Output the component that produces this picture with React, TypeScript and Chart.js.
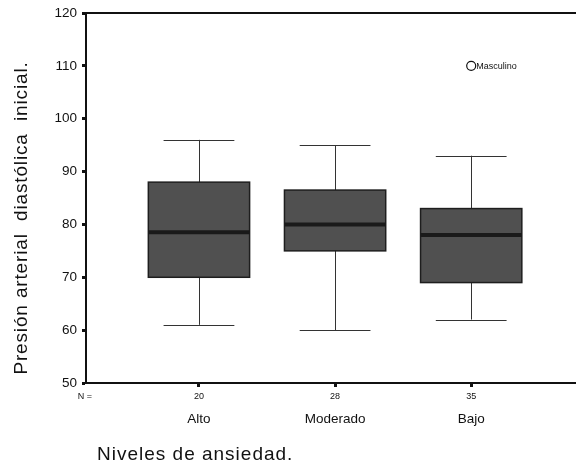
import React, { useEffect, useRef } from "react";
import { Chart, registerables } from "chart.js";

Chart.register(...registerables);

// ---- data ----
const categories = ["Alto", "Moderado", "Bajo"];
const counts = [20, 28, 35];
const whiskerLow = [61, 60, 62];
const q1 = [70, 75, 69];
const median = [78.5, 80, 78];
const q3 = [88, 86.5, 83];
const whiskerHigh = [96, 95, 93];
const outlierCategory = [3];
const outlierValue = [110];
const outlierLabel = ["Masculino"];
const yTickValues = [50, 60, 70, 80, 90, 100, 110, 120];

const yTitle = "Presión arterial  diastólica  inicial.";
const xTitle = "Niveles de ansiedad.";

const FONT = "'Liberation Sans', Arial, sans-serif";
const BOX_HALF = 0.372;
const CAP_HALF = 0.26;

const boxPlugin = {
  id: "boxplot",
  afterDatasetsDraw(chart: any) {
    const ctx = chart.ctx;
    const xs = chart.scales.x;
    const ys = chart.scales.y;
    ctx.save();
    categories.forEach((_, i) => {
      const c = xs.getPixelForValue(i + 1);
      const l = xs.getPixelForValue(i + 1 - BOX_HALF);
      const r = xs.getPixelForValue(i + 1 + BOX_HALF);
      const cl = xs.getPixelForValue(i + 1 - CAP_HALF);
      const cr = xs.getPixelForValue(i + 1 + CAP_HALF);
      const yLo = ys.getPixelForValue(whiskerLow[i]);
      const yQ1 = ys.getPixelForValue(q1[i]);
      const yMed = ys.getPixelForValue(median[i]);
      const yQ3 = ys.getPixelForValue(q3[i]);
      const yHi = ys.getPixelForValue(whiskerHigh[i]);
      ctx.strokeStyle = "#333";
      ctx.lineWidth = 1;
      ctx.beginPath();
      const cx = Math.round(c) + 0.5;
      ctx.moveTo(cx, yLo);
      ctx.lineTo(cx, yQ1);
      ctx.moveTo(cx, yQ3);
      ctx.lineTo(cx, yHi);
      ctx.moveTo(cl, Math.round(yLo) + 0.5);
      ctx.lineTo(cr, Math.round(yLo) + 0.5);
      ctx.moveTo(cl, Math.round(yHi) + 0.5);
      ctx.lineTo(cr, Math.round(yHi) + 0.5);
      ctx.stroke();
      ctx.fillStyle = "#505050";
      ctx.fillRect(l, yQ3, r - l, yQ1 - yQ3);
      ctx.strokeStyle = "#1e1e1e";
      ctx.lineWidth = 1.5;
      ctx.strokeRect(l, yQ3, r - l, yQ1 - yQ3);
      ctx.strokeStyle = "#1a1a1a";
      ctx.lineWidth = 4;
      ctx.beginPath();
      ctx.moveTo(l, yMed);
      ctx.lineTo(r, yMed);
      ctx.stroke();
    });
    // outlier labels
    ctx.fillStyle = "#111";
    ctx.font = `9px ${FONT}`;
    ctx.textAlign = "left";
    ctx.textBaseline = "middle";
    outlierLabel.forEach((t, i) => {
      const px = xs.getPixelForValue(outlierCategory[i]);
      const py = ys.getPixelForValue(outlierValue[i]);
      ctx.fillText(t, px + 5, py + 1);
    });
    ctx.restore();
  },
  afterDraw(chart: any) {
    const ctx = chart.ctx;
    const xs = chart.scales.x;
    const area = chart.chartArea;
    ctx.save();
    // top frame line
    ctx.strokeStyle = "#111";
    ctx.lineWidth = 2;
    ctx.beginPath();
    ctx.moveTo(area.left, area.top);
    ctx.lineTo(area.right, area.top);
    ctx.stroke();
    // counts
    ctx.fillStyle = "#111";
    ctx.font = `9px ${FONT}`;
    ctx.textAlign = "center";
    ctx.textBaseline = "middle";
    ctx.fillText("N =", area.left - 1, area.bottom + 14);
    counts.forEach((n, i) => {
      ctx.fillText(String(n), xs.getPixelForValue(i + 1), area.bottom + 14);
    });
    // titles
    ctx.font = `19px ${FONT}`;
    (ctx as any).letterSpacing = "1px";
    ctx.textAlign = "left";
    ctx.textBaseline = "middle";
    ctx.fillText(xTitle, area.left + 11, 455);
    ctx.translate(22, 218);
    ctx.rotate(-Math.PI / 2);
    (ctx as any).letterSpacing = "0.85px";
    ctx.textAlign = "center";
    ctx.fillText(yTitle, 0, 0);
    ctx.restore();
  },
};

export default function App() {
  const ref = useRef<HTMLCanvasElement>(null);
  useEffect(() => {
    const canvas = ref.current;
    if (!canvas) return;
    const chart = new Chart(canvas, {
      type: "scatter",
      data: {
        datasets: [
          {
            data: outlierCategory.map((c, i) => ({ x: c, y: outlierValue[i] })),
            pointStyle: "circle",
            pointRadius: 4.5,
            pointBackgroundColor: "#fff",
            pointBorderColor: "#111",
            pointBorderWidth: 1.2,
          },
        ],
      },
      options: {
        responsive: false,
        animation: false,
        layout: { autoPadding: false, padding: { top: 13, left: 0, right: 0, bottom: 0 } },
        plugins: { legend: { display: false }, tooltip: { enabled: false } },
        scales: {
          x: {
            type: "linear",
            min: 0.17,
            max: 3.77,
            afterBuildTicks: (s: any) => {
              s.ticks = categories.map((_, i) => ({ value: i + 1 }));
            },
            afterFit: (s: any) => {
              s.height = 83;
              s.paddingLeft = 0;
              s.paddingRight = 0;
            },
            ticks: {
              callback: (v: any) => categories[Number(v) - 1] ?? "",
              color: "#111",
              font: { family: FONT, size: 13.5 },
              padding: 24,
              maxRotation: 0,
              autoSkip: false,
            },
            grid: {
              drawOnChartArea: false,
              tickLength: 4,
              tickWidth: 3,
              tickColor: "#111",
            },
            border: { display: true, color: "#111", width: 2 },
          },
          y: {
            min: 50,
            max: 120,
            afterBuildTicks: (s: any) => {
              s.ticks = yTickValues.map((v) => ({ value: v }));
            },
            afterFit: (s: any) => {
              s.width = 86;
              s.paddingTop = 0;
              s.paddingBottom = 0;
            },
            ticks: {
              color: "#111",
              font: { family: FONT, size: 13.5 },
              padding: 5,
            },
            grid: {
              drawOnChartArea: false,
              tickLength: 4,
              tickWidth: 3,
              tickColor: "#111",
            },
            border: { display: true, color: "#111", width: 2 },
          },
        },
      },
      plugins: [boxPlugin],
    });
    return () => chart.destroy();
  }, []);
  return (
    <div style={{ position: "absolute", left: 0, top: 0, width: 576, height: 466, background: "#fff" }}>
      <canvas ref={ref} width={576} height={466} />
    </div>
  );
}
